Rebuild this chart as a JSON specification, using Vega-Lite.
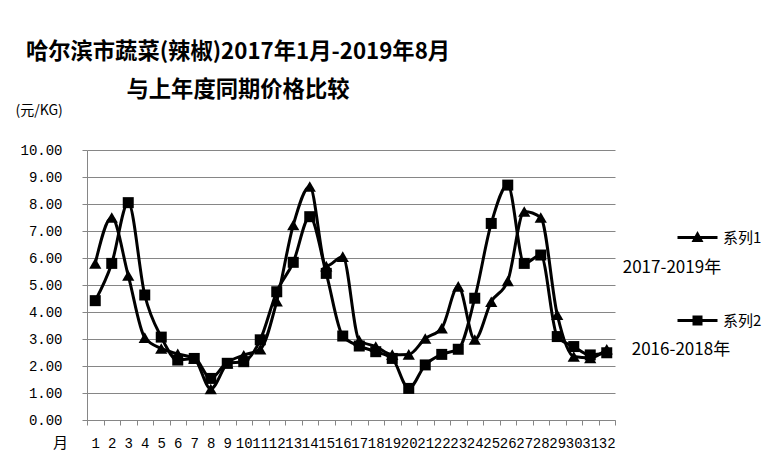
{
  "$schema": "https://vega.github.io/schema/vega-lite/v6.json",
  "width": 528,
  "height": 270,
  "autosize": {"type": "none"},
  "padding": {"left": 87, "top": 150, "right": 169, "bottom": 40},
  "background": "white",
  "config": {"view": {"stroke": null}},
  "title": {
    "text": ["哈尔滨市蔬菜(辣椒)2017年1月-2019年8月", "与上年度同期价格比较"],
    "font": "Noto Sans CJK SC",
    "fontSize": 22.3,
    "fontWeight": "bold",
    "color": "black",
    "anchor": "middle",
    "dx": -113,
    "offset": 2,
    "lineHeight": 38
  },
  "data": {
    "values": [
      {"m": 1, "s": "系列1", "v": 5.8}, {"m": 2, "s": "系列1", "v": 7.5}, {"m": 3, "s": "系列1", "v": 5.35}, {"m": 4, "s": "系列1", "v": 3.05},
      {"m": 5, "s": "系列1", "v": 2.65}, {"m": 6, "s": "系列1", "v": 2.45}, {"m": 7, "s": "系列1", "v": 2.28}, {"m": 8, "s": "系列1", "v": 1.15},
      {"m": 9, "s": "系列1", "v": 2.1}, {"m": 10, "s": "系列1", "v": 2.4}, {"m": 11, "s": "系列1", "v": 2.62}, {"m": 12, "s": "系列1", "v": 4.4},
      {"m": 13, "s": "系列1", "v": 7.22}, {"m": 14, "s": "系列1", "v": 8.65}, {"m": 15, "s": "系列1", "v": 5.7}, {"m": 16, "s": "系列1", "v": 6.05},
      {"m": 17, "s": "系列1", "v": 2.95}, {"m": 18, "s": "系列1", "v": 2.72}, {"m": 19, "s": "系列1", "v": 2.42}, {"m": 20, "s": "系列1", "v": 2.43},
      {"m": 21, "s": "系列1", "v": 3.02}, {"m": 22, "s": "系列1", "v": 3.4}, {"m": 23, "s": "系列1", "v": 4.95}, {"m": 24, "s": "系列1", "v": 2.98},
      {"m": 25, "s": "系列1", "v": 4.38}, {"m": 26, "s": "系列1", "v": 5.15}, {"m": 27, "s": "系列1", "v": 7.72}, {"m": 28, "s": "系列1", "v": 7.5},
      {"m": 29, "s": "系列1", "v": 3.9}, {"m": 30, "s": "系列1", "v": 2.35}, {"m": 31, "s": "系列1", "v": 2.3}, {"m": 32, "s": "系列1", "v": 2.62},
      {"m": 1, "s": "系列2", "v": 4.42}, {"m": 2, "s": "系列2", "v": 5.8}, {"m": 3, "s": "系列2", "v": 8.05}, {"m": 4, "s": "系列2", "v": 4.63},
      {"m": 5, "s": "系列2", "v": 3.07}, {"m": 6, "s": "系列2", "v": 2.22}, {"m": 7, "s": "系列2", "v": 2.28}, {"m": 8, "s": "系列2", "v": 1.54},
      {"m": 9, "s": "系列2", "v": 2.1}, {"m": 10, "s": "系列2", "v": 2.16}, {"m": 11, "s": "系列2", "v": 2.97}, {"m": 12, "s": "系列2", "v": 4.75},
      {"m": 13, "s": "系列2", "v": 5.84}, {"m": 14, "s": "系列2", "v": 7.53}, {"m": 15, "s": "系列2", "v": 5.43}, {"m": 16, "s": "系列2", "v": 3.11},
      {"m": 17, "s": "系列2", "v": 2.74}, {"m": 18, "s": "系列2", "v": 2.53}, {"m": 19, "s": "系列2", "v": 2.28}, {"m": 20, "s": "系列2", "v": 1.17},
      {"m": 21, "s": "系列2", "v": 2.04}, {"m": 22, "s": "系列2", "v": 2.43}, {"m": 23, "s": "系列2", "v": 2.62}, {"m": 24, "s": "系列2", "v": 4.51},
      {"m": 25, "s": "系列2", "v": 7.28}, {"m": 26, "s": "系列2", "v": 8.7}, {"m": 27, "s": "系列2", "v": 5.8}, {"m": 28, "s": "系列2", "v": 6.11},
      {"m": 29, "s": "系列2", "v": 3.09}, {"m": 30, "s": "系列2", "v": 2.72}, {"m": 31, "s": "系列2", "v": 2.41}, {"m": 32, "s": "系列2", "v": 2.49}
    ]
  },
  "encoding": {
    "x": {
      "field": "m",
      "type": "ordinal",
      "scale": {"type": "band", "paddingInner": 0, "paddingOuter": 0},
      "axis": {
        "title": "月",
        "titleFont": "Noto Sans CJK SC",
        "titleFontSize": 15,
        "titleFontWeight": "normal",
        "titleColor": "black",
        "titleX": -27,
        "titleY": 22,
        "titleAlign": "center",
        "titleBaseline": "middle",
        "labelAngle": 0,
        "labelFont": "Liberation Mono",
        "labelFontSize": 14,
        "labelColor": "black",
        "labelOverlap": false,
        "labelFlush": false,
        "labelBaseline": "middle",
        "labelPadding": 18,
        "tickBand": "extent",
        "tickColor": "#868686",
        "tickSize": 5,
        "domainColor": "#868686",
        "grid": false
      }
    },
    "y": {
      "field": "v",
      "type": "quantitative",
      "scale": {"domain": [0, 10], "nice": false},
      "axis": {
        "title": "(元/KG)",
        "titleAngle": 0,
        "titleX": -72,
        "titleY": -40,
        "titleAlign": "left",
        "titleBaseline": "middle",
        "titleFont": "Noto Sans CJK SC",
        "titleFontSize": 14,
        "titleFontWeight": "normal",
        "titleColor": "black",
        "values": [0, 1, 2, 3, 4, 5, 6, 7, 8, 9, 10],
        "format": ".2f",
        "labelFont": "Liberation Mono",
        "labelFontSize": 14,
        "labelColor": "black",
        "labelPadding": 20,
        "tickColor": "#868686",
        "tickSize": 5,
        "domainColor": "#868686",
        "gridColor": "#868686",
        "gridOpacity": 1
      }
    }
  },
  "layer": [
    {
      "mark": {"type": "line", "interpolate": "monotone", "color": "black", "strokeWidth": 3},
      "encoding": {"detail": {"field": "s", "type": "nominal"}}
    },
    {
      "mark": {"type": "point", "filled": true, "color": "black", "opacity": 1, "strokeWidth": 0},
      "encoding": {
        "shape": {"field": "s", "type": "nominal", "scale": {"domain": ["系列1", "系列2"], "range": ["triangle-up", "square"]}, "legend": null},
        "size": {"field": "s", "type": "nominal", "scale": {"domain": ["系列1", "系列2"], "range": [150, 121]}, "legend": null}
      }
    },
    {
      "transform": [{"filter": "false"}],
      "mark": {"type": "point", "filled": true, "color": "black", "opacity": 1},
      "encoding": {
        "shape": {
          "field": "s",
          "type": "nominal",
          "scale": {
            "domain": ["系列1", "系列2"],
            "range": [
              "M-4,-0.3H4V0.3H-4Z M0,-1.3L1.2,0.9L-1.2,0.9Z",
              "M-4,-0.3H4V0.3H-4Z M-1,-1H1V1H-1Z"
            ]
          },
          "legend": {
            "title": null,
            "orient": "none",
            "legendX": 603,
            "legendY": 80,
            "padding": 0,
            "rowPadding": 67,
            "symbolSize": 100,
            "symbolStrokeWidth": 0,
            "symbolFillColor": "black",
            "symbolOpacity": 1,
            "labelOffset": 18,
            "labelFont": "Noto Sans CJK SC",
            "labelFontSize": 15,
            "labelColor": "black"
          }
        }
      }
    },
    {
      "transform": [{"filter": "datum.m == 32 && datum.s == '系列1'"}],
      "mark": {"type": "text", "align": "left", "baseline": "middle", "font": "Noto Sans CJK SC", "fontSize": 17, "color": "black", "dx": 16},
      "encoding": {
        "y": {"datum": 5.63, "type": "quantitative"},
        "text": {"value": "2017-2019年"}
      }
    },
    {
      "transform": [{"filter": "datum.m == 32 && datum.s == '系列2'"}],
      "mark": {"type": "text", "align": "left", "baseline": "middle", "font": "Noto Sans CJK SC", "fontSize": 17, "color": "black", "dx": 25},
      "encoding": {
        "y": {"datum": 2.59, "type": "quantitative"},
        "text": {"value": "2016-2018年"}
      }
    }
  ],
  "resolve": {"scale": {"shape": "independent"}}
}
